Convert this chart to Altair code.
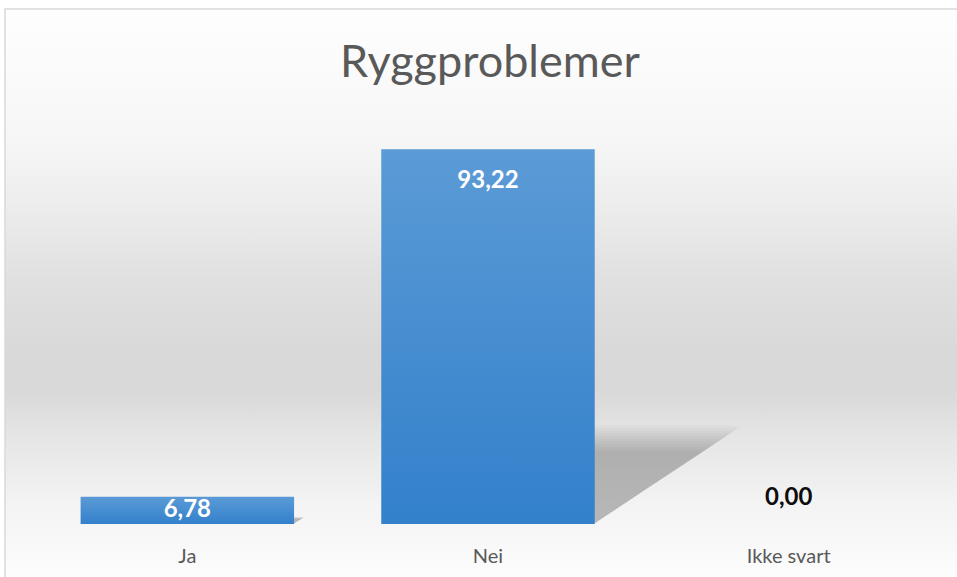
import altair as alt
import pandas as pd

# Survey answers (percent)
categories = ["Ja", "Nei", "Ikke svart"]
values = [6.78, 93.22, 0.00]
title_text = "Ryggproblemer"

W, H = 902, 402
PAD_INNER, PAD_OUTER = 0.29, 0.145

df = pd.DataFrame({"kategori": categories, "verdi": values})

# Perspective drop shadow cast up and to the right of each bar,
# built as many nested low-opacity triangles so the edges look soft.
RISE = 0.23        # shadow height as a share of bar height
RUN = 0.0046       # horizontal reach (band units) per value unit
BAR_RIGHT = 1 - PAD_OUTER
LEVELS = [0.84, 0.87, 0.9, 0.93, 0.96, 0.99, 1.02, 1.05, 1.08, 1.11, 1.14]
rows = []
for i, (c, v) in enumerate(zip(categories, values)):
    if v <= 0:
        continue
    for lvl, s in enumerate(LEVELS):
        r = i + BAR_RIGHT
        key = f"{c}-{lvl}"
        rows.append({"key": key, "sx": r - 0.004, "sy": RISE * v * s, "sy2": 0})
        rows.append({"key": key, "sx": r + RUN * v * s, "sy": RISE * v * s, "sy2": RISE * v * s})
shadow_df = pd.DataFrame(rows)

x_band = alt.Scale(domain=categories, paddingInner=PAD_INNER, paddingOuter=PAD_OUTER)
y_scale = alt.Scale(domain=[0, 100], nice=False, zero=True)

bg_fill = alt.LinearGradient(
    gradient="linear", x1=0, y1=0, x2=0, y2=1,
    stops=[
        alt.GradientStop(offset=0.0, color="#fefefe"),
        alt.GradientStop(offset=0.21, color="#f7f7f7"),
        alt.GradientStop(offset=0.33, color="#eeeeee"),
        alt.GradientStop(offset=0.47, color="#e0e0e0"),
        alt.GradientStop(offset=0.595, color="#d9d9d9"),
        alt.GradientStop(offset=0.665, color="#d9d9d9"),
        alt.GradientStop(offset=0.75, color="#e6e6e6"),
        alt.GradientStop(offset=0.857, color="#f3f3f3"),
        alt.GradientStop(offset=1.0, color="#fdfdfd"),
    ],
)

background = alt.Chart(pd.DataFrame({"a": [0]})).mark_rect(
    fill=bg_fill, stroke="#d9d9d9", strokeWidth=1.5
).encode(
    x=alt.value(-32), x2=alt.value(W + 30), y=alt.value(-113), y2=alt.value(H + 60)
)

title = alt.Chart(pd.DataFrame({"t": [title_text]})).mark_text(
    font="Lato", fontSize=45, color="#595959", align="center", baseline="alphabetic"
).encode(x=alt.value(W / 2 + 2), y=alt.value(-45), text="t:N")

shadow = alt.Chart(shadow_df).mark_area(color="#555555", opacity=0.045).encode(
    x=alt.X("sx:Q", scale=alt.Scale(domain=[0, 3], nice=False, zero=False), axis=None),
    y=alt.Y("sy:Q", scale=y_scale, axis=None),
    y2="sy2:Q",
    detail="key:N",
)

bar_fill = alt.LinearGradient(
    gradient="linear", x1=0, y1=0, x2=0, y2=1,
    stops=[
        alt.GradientStop(offset=0, color="#5b9bd6"),
        alt.GradientStop(offset=1, color="#3380cb"),
    ],
)

base = alt.Chart(df).transform_calculate(
    label="replace(format(datum.verdi, '.2f'), '.', ',')"
)

bars = base.mark_bar(fill=bar_fill).encode(
    x=alt.X("kategori:N", sort=categories, scale=x_band, title=None,
            axis=alt.Axis(orient="bottom", zindex=1, labelAngle=0, domain=False,
                          ticks=False, grid=False, labelPadding=22,
                          labelFont="Lato", labelFontSize=20, labelColor="#595959")),
    y=alt.Y("verdi:Q", scale=y_scale, axis=None),
)

def value_labels(cond, dy, color):
    return base.transform_filter(cond).mark_text(
        font="Lato", fontSize=24, fontWeight="bold", color=color,
        baseline="middle", dy=dy
    ).encode(
        x=alt.X("kategori:N", sort=categories, scale=x_band, axis=None),
        y=alt.Y("verdi:Q", scale=y_scale, axis=None),
        text="label:N",
    )

labels_tall = value_labels("datum.verdi >= 20", 32, "white")
labels_short = value_labels("datum.verdi > 0 && datum.verdi < 20", 13, "white")
labels_zero = value_labels("datum.verdi <= 0", -26, "#0d0d0d")

chart = alt.layer(
    background, title, shadow, bars, labels_tall, labels_short, labels_zero
).resolve_scale(x="independent").properties(
    width=W,
    height=H,
    padding={"left": 37, "top": 122, "right": 18, "bottom": 53},
    autosize=alt.AutoSizeParams(type="none"),
    background="white",
).configure_view(stroke=None)

chart.save("out.html", embed_options={"renderer": "svg", "actions": False})
